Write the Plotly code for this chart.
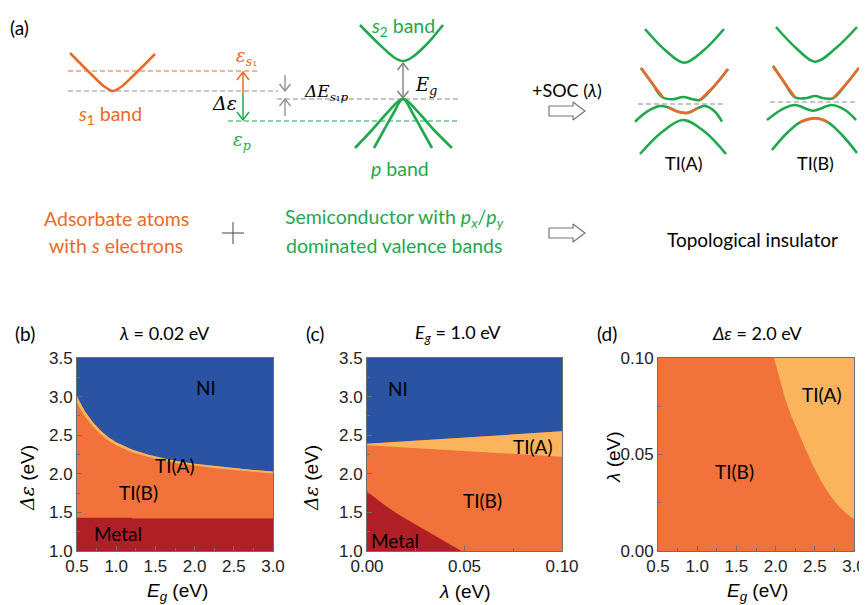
import plotly.graph_objects as go

# The page places the figure 8 px from the top-left corner (browser body margin),
# so the figure is 8 px smaller and all pixel positions below are page pixels.
PAGE_W, PAGE_H, OFF = 867, 605, 8
W, H = PAGE_W - OFF, PAGE_H - OFF

# ---------------- colours ----------------
C_NI = '#2A53A4'
C_TIB = '#F1723A'
C_TIA = '#F9B45C'
C_MET = '#B01F25'
C_OR = '#EA6A2A'
C_GR = '#1FA84E'
C_GRAY = '#8C8C8C'
C_AX = '#6E6E6E'

# ---------------- panel (b): lambda = 0.02 eV ----------------
b_eg = [0.5, 0.55, 0.6, 0.7, 0.8, 0.9, 1.0, 1.2, 1.4, 1.6, 1.8, 2.0, 2.25, 2.5, 2.75, 3.0]
b_ni_edge = [3.00, 2.90, 2.81, 2.67, 2.56, 2.475, 2.41, 2.315, 2.25, 2.20, 2.16, 2.13, 2.10, 2.075, 2.05, 2.03]
b_tia_edge = [2.92, 2.83, 2.745, 2.615, 2.51, 2.43, 2.37, 2.28, 2.22, 2.172, 2.134, 2.105, 2.076, 2.05, 2.025, 2.005]
b_metal_eg = [0.5, 1.2, 1.2, 3.0]
b_metal_edge = [1.43, 1.43, 1.42, 1.42]

# ---------------- panel (c): Eg = 1.0 eV ----------------
c_lam = [0.0, 0.1]
c_ni_edge = [2.39, 2.55]
c_tia_edge = [2.37, 2.22]
c_metal_lam = [0.0, 0.005, 0.01, 0.018, 0.025, 0.033, 0.04, 0.0484]
c_metal_edge = [1.77, 1.67, 1.575, 1.445, 1.34, 1.225, 1.12, 1.0]

# ---------------- panel (d): delta eps = 2.0 eV ----------------
d_eg = [1.98, 2.05, 2.12, 2.2, 2.29, 2.38, 2.48, 2.59, 2.69, 2.8, 2.9, 3.0]
d_tia_edge = [0.100, 0.089, 0.079, 0.070, 0.061, 0.053, 0.044, 0.0355, 0.029, 0.0234, 0.0195, 0.0165]

# axis ranges / ticks
b_xr, b_yr = [0.5, 3.0], [1.0, 3.5]
c_xr, c_yr = [0.0, 0.1], [1.0, 3.5]
d_xr, d_yr = [0.5, 3.0], [0.0, 0.1]

# region labels: (text, x, y)
b_labels = [('NI', 2.15, 3.12), ('TI(A)', 1.75, 2.11), ('TI(B)', 1.28, 1.76), ('Metal', 1.02, 1.23)]
c_labels = [('NI', 0.016, 3.11), ('TI(A)', 0.0853, 2.35), ('TI(B)', 0.059, 1.66), ('Metal', 0.0146, 1.14)]
d_labels = [('TI(A)', 2.59, 0.0813), ('TI(B)', 1.48, 0.0414)]

# ---------------- schematic (a), page-pixel coordinates ----------------
s1_band = ([70, 92, 105, 113, 121, 134, 155], [53, 75, 87, 91, 87, 75, 54])
s2_band = ([360, 380, 395, 403, 411, 426, 443], [25, 45, 58, 61, 58, 45, 25])
p_wide = ([355, 372, 388, 403, 418, 434, 452], [148, 130, 112, 99, 112, 130, 148])
p_narrow = ([374, 384, 393, 403, 413, 422, 432], [148, 130, 114, 99, 114, 130, 148])
dashes = [  # x0, x1, y, colour
    (68, 257, 71, C_OR), (68, 278, 91, C_GRAY), (277, 460, 99, C_GRAY), (228, 460, 121, C_GR)]

ta1 = ([645, 665, 684, 704, 724], [29, 50, 62.7, 50, 29])
ta2 = ([641, 652, 662, 672, 683, 693, 700, 716, 728], [68, 83, 97, 99.3, 97, 99.3, 100, 84, 69])
ta2_or_l = ([641, 652, 663], [68, 83, 97.5])
ta2_or_r = ([700, 716, 728], [100, 84, 69])
ta3 = ([635, 647, 660, 668, 680, 688, 698, 705, 715, 722], [121.7, 111.7, 106, 107.3, 112.3, 112.7, 108, 106, 111.7, 121.7])
ta3_or = ([668, 680, 688, 698], [107.3, 112.3, 112.7, 108])
ta4 = ([640, 662, 683, 705, 726], [154, 132, 120, 132, 154])
ta_dash = (638, 724, 104)

tb1 = ([776, 796, 815, 836, 857], [27, 48, 61.7, 48, 27])
tb2 = ([773, 784, 795, 805, 815, 824, 833, 847, 859], [66, 82, 97.3, 98.3, 96, 98.3, 98.3, 83, 67.7])
tb2_or_l = ([773, 784, 795], [66, 82, 97.3])
tb2_or_r = ([833, 847, 859], [98.3, 83, 67.7])
tb3 = ([767, 782, 795, 813, 832, 845, 856], [120, 109.3, 105, 110.7, 105, 110, 120])
tb4 = ([772, 786, 800, 815, 828, 843, 857], [150, 134, 122.3, 118.3, 122.3, 136, 153])
tb4_or = ([800, 808, 815, 822, 828], [122.3, 119.5, 118.3, 119.5, 122.3])
tb_dash = (770, 856, 102)

block_arrows = [(549, 111), (549, 233)]  # left x, centre y

fig = go.Figure()


def dom_x(a, b):
    return [(a - OFF) / W, (b - OFF) / W]


def dom_y(top, bot):
    return [1 - (bot - OFF) / H, 1 - (top - OFF) / H]


def poly(xs, ys, color, xa, ya):
    fig.add_trace(go.Scatter(x=xs, y=ys, fill='toself', fillcolor=color, mode='lines',
                             line=dict(width=0, color=color), xaxis=xa, yaxis=ya,
                             hoverinfo='skip', showlegend=False))


# ---- panel b regions
poly(b_eg + [b_xr[1], b_xr[0]], b_ni_edge + [b_yr[1], b_yr[1]], C_NI, 'x', 'y')
poly(b_eg + b_eg[::-1], b_ni_edge + b_tia_edge[::-1], C_TIA, 'x', 'y')
poly(b_metal_eg + [b_xr[1], b_xr[0]], b_metal_edge + [b_yr[0], b_yr[0]], C_MET, 'x', 'y')
# ---- panel c regions
poly(c_lam + [c_xr[1], c_xr[0]], c_ni_edge + [c_yr[1], c_yr[1]], C_NI, 'x2', 'y2')
poly(c_lam + c_lam[::-1], c_ni_edge + c_tia_edge[::-1], C_TIA, 'x2', 'y2')
poly(c_metal_lam + [c_xr[0]], c_metal_edge + [c_yr[0]], C_MET, 'x2', 'y2')
# ---- panel d regions
poly(d_eg + [d_xr[1]], d_tia_edge + [d_yr[1]], C_TIA, 'x3', 'y3')


# ---- schematic helpers
def line(xs, ys, color, width=2.6, dash=None, shape='spline'):
    fig.add_trace(go.Scatter(x=list(xs), y=list(ys), mode='lines',
                             line=dict(color=color, width=width, dash=dash, shape=shape, smoothing=1.0),
                             xaxis='x4', yaxis='y4', hoverinfo='skip', showlegend=False))


def vline_arrow(x, y0, y1, color, head_start=False, head_end=True):
    line([x, x], [y0, y1], color, width=1.3, shape='linear')
    for (yt, yfrom) in ([(y1, y0)] if head_end else []) + ([(y0, y1)] if head_start else []):
        d = 7 if yfrom > yt else -7
        line([x - 5.5, x, x + 5.5], [yt + d, yt, yt + d], color, width=1.3, shape='linear')


for (x0, x1, y, col) in dashes:
    line([x0, x1], [y, y], col, width=1.2, dash='5px,3px', shape='linear')
line(*s1_band, C_OR)
line(*s2_band, C_GR)
line(*p_wide, C_GR)
line(*p_narrow, C_GR)

# delta epsilon arrow (orange up / green down)
line([243, 243], [72, 94], C_OR, width=1.5, shape='linear')
line([237, 243, 249], [80, 72, 80], C_OR, width=1.5, shape='linear')
line([243, 243], [94, 120], C_GR, width=1.5, shape='linear')
line([237, 243, 249], [112, 120, 112], C_GR, width=1.5, shape='linear')
# delta E_s1p arrows
vline_arrow(285, 75, 91, C_GRAY)
vline_arrow(285, 116, 99, C_GRAY)
# Eg arrow
vline_arrow(403, 63, 98, '#777777', head_start=True, head_end=True)

# TI(A)
line(*ta1, C_GR)
line(*ta2, C_GR)
line(*ta2_or_l, C_OR)
line(*ta2_or_r, C_OR)
line(*ta3, C_GR)
line(*ta3_or, C_OR)
line(*ta4, C_GR)
line([ta_dash[0], ta_dash[1]], [ta_dash[2]] * 2, C_GRAY, width=1.2, dash='5px,3px', shape='linear')
# TI(B)
line(*tb1, C_GR)
line(*tb2, C_GR)
line(*tb2_or_l, C_OR)
line(*tb2_or_r, C_OR)
line(*tb3, C_GR)
line(*tb4, C_GR)
line(*tb4_or, C_OR)
line([tb_dash[0], tb_dash[1]], [tb_dash[2]] * 2, C_GRAY, width=1.2, dash='5px,3px', shape='linear')

# hollow block arrows
for (ax0, ay) in block_arrows:
    xs = [ax0, ax0 + 24, ax0 + 24, ax0 + 36, ax0 + 24, ax0 + 24, ax0, ax0]
    ys = [ay - 5, ay - 5, ay - 9, ay, ay + 9, ay + 5, ay + 5, ay - 5]
    fig.add_trace(go.Scatter(x=xs, y=ys, mode='lines', fill='toself', fillcolor='white',
                             line=dict(color='#777777', width=1.2), xaxis='x4', yaxis='y4',
                             hoverinfo='skip', showlegend=False))
# plus sign
line([222, 244], [233, 233], '#555555', width=1.1, shape='linear')
line([233, 233], [222, 244], '#555555', width=1.1, shape='linear')

# ---------------- annotations ----------------
ann = []
SANS = 'Lato'
MATH = 'DejaVu Serif'
AX = 'Liberation Sans'


def txt(x, y, s, size=17, color='black', family=SANS, ref=('x4', 'y4'), **kw):
    ann.append(dict(x=x, y=y, xref=ref[0], yref=ref[1], text=s, showarrow=False,
                    font=dict(size=size, color=color, family=family), **kw))


txt(19, 27, '(a)', size=19)
txt(246, 57, '<i>ε</i><sub><i>s</i>₁</sub>', size=18, color=C_OR, family=MATH)
txt(224, 103, '<i>Δε</i>', size=19, family=MATH)
txt(242, 141, '<i>ε</i><sub><i>p</i></sub>', size=18, color=C_GR, family=MATH)
txt(110, 115, '<i>s</i><sub>1</sub> band', size=19.5, color=C_OR)
txt(326, 92, '<i>ΔE</i><sub><i>s</i>₁<i>p</i></sub>', size=17, family=MATH)
txt(403, 27, '<i>s</i><sub>2</sub> band', size=19.5, color=C_GR)
txt(426, 86, '<i>E</i><sub><i>g</i></sub>', size=18, family=MATH)
txt(400, 168, '<i>p</i> band', size=19.5, color=C_GR)
txt(567, 90, '+SOC (<i>λ</i>)', size=18)
txt(683, 163, 'TI(A)', size=18)
txt(815, 163, 'TI(B)', size=18)
txt(116, 218, 'Adsorbate atoms', size=19.5, color=C_OR)
txt(116, 245, 'with <i>s</i> electrons', size=19.5, color=C_OR)
txt(394, 218, 'Semiconductor with <i>p<sub>x</sub></i>/<i>p<sub>y</sub></i>', size=19.5, color=C_GR)
txt(394, 245, 'dominated valence bands', size=19.5, color=C_GR)
txt(752, 239, 'Topological insulator', size=19)

# panel labels and titles
txt(25, 333, '(b)', size=19)
txt(164, 333, '<i>λ</i> = 0.02 eV', size=18)
txt(315, 333, '(c)', size=19)
txt(458, 333, '<i>E<sub>g</sub></i> = 1.0 eV', size=18)
txt(607, 333, '(d)', size=19)
txt(757, 333, '<i>Δε</i> = 2.0 eV', size=18)

# axis titles
DE = '<span style="font-family:DejaVu Serif"><i>Δε</i></span> (eV)'
txt(27, 478, DE, size=19, family=AX, textangle=-90)
txt(311, 478, DE, size=19, family=AX, textangle=-90)
txt(613, 457, '<i>λ</i> (eV)', size=19, family=AX, textangle=-90)
txt(177, 592, '<i>E<sub>g</sub></i> (eV)', size=19, family=AX)
txt(465, 591, '<i>λ</i> (eV)', size=19, family=AX)
txt(757, 592, '<i>E<sub>g</sub></i> (eV)', size=19, family=AX)

# region labels
for (labels, xa, ya) in [(b_labels, 'x', 'y'), (c_labels, 'x2', 'y2'), (d_labels, 'x3', 'y3')]:
    for (s, x, y) in labels:
        txt(x, y, s, size=19, ref=(xa, ya))


# ---------------- axes ----------------
def axis(domain, rng, dtick, fmt, minor, anchor):
    return dict(domain=domain, range=rng, dtick=dtick, tick0=rng[0], tickformat=fmt,
                showline=True, mirror=True, linecolor=C_AX, linewidth=1,
                ticks='inside', ticklen=5, tickcolor=C_AX, tickwidth=1,
                minor=dict(ticks='inside', ticklen=3, dtick=minor, tickcolor=C_AX),
                showgrid=False, zeroline=False, fixedrange=True, anchor=anchor,
                automargin=False,
                tickfont=dict(family=AX, size=17, color='#222222'))


ydom = dom_y(358, 551)
layout = dict(
    width=W, height=H, autosize=False,
    margin=dict(l=0, r=0, t=0, b=0, pad=0, autoexpand=False),
    paper_bgcolor='white', plot_bgcolor='rgba(0,0,0,0)',
    showlegend=False, hovermode=False,
    xaxis=axis(dom_x(77, 273), b_xr, 0.5, '.1f', 0.25, 'y'),
    yaxis=axis(ydom, b_yr, 0.5, '.1f', 0.25, 'x'),
    xaxis2=axis(dom_x(367, 562), c_xr, 0.05, '.2f', 0.025, 'y2'),
    yaxis2=axis(ydom, c_yr, 0.5, '.1f', 0.25, 'x2'),
    xaxis3=axis(dom_x(658, 854), d_xr, 0.5, '.1f', 0.25, 'y3'),
    yaxis3=axis(ydom, d_yr, 0.05, '.2f', 0.025, 'x3'),
    # overlay axis in page pixels for the schematic and all free texts
    xaxis4=dict(domain=[0, 1], range=[OFF, PAGE_W], visible=False, fixedrange=True, anchor='y4', automargin=False),
    yaxis4=dict(domain=[0, 1], range=[PAGE_H, OFF], visible=False, fixedrange=True, anchor='x4', automargin=False),
    annotations=ann,
    shapes=[dict(type='rect', xref=f'{xr} domain', yref=f'{yr} domain', x0=0, x1=1, y0=0, y1=1,
                 fillcolor=C_TIB, line=dict(width=0), layer='below')
            for xr, yr in [('x', 'y'), ('x2', 'y2'), ('x3', 'y3')]],
)
fig.update_layout(**layout)
fig.write_html('out.html')
